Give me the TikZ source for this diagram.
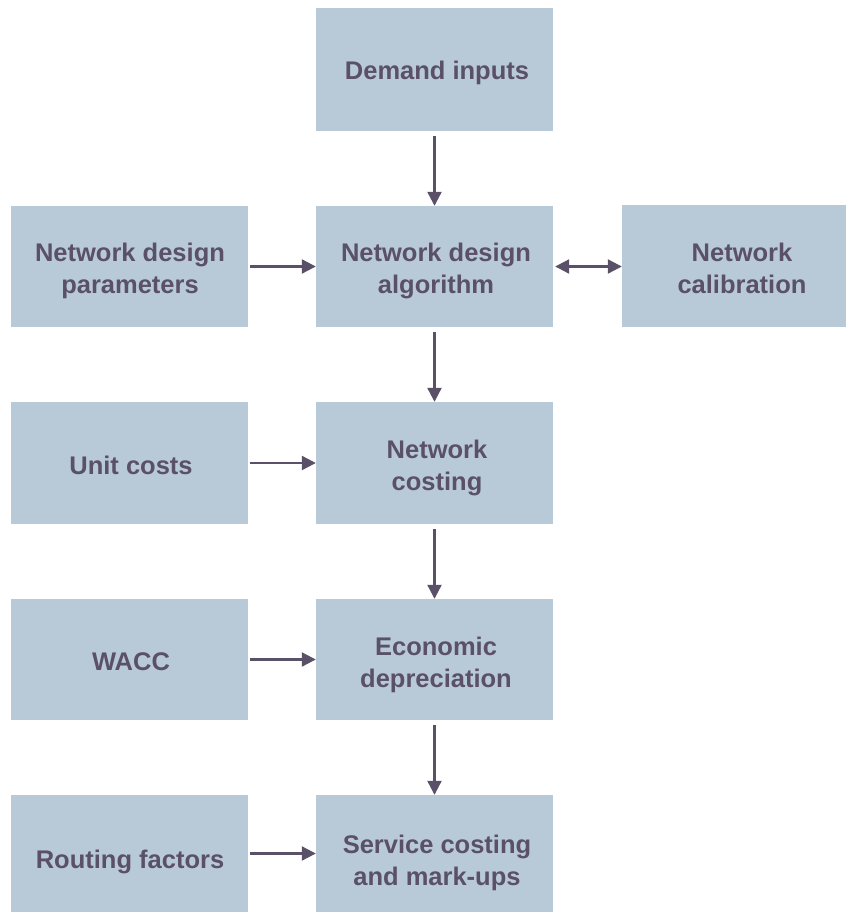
\documentclass[tikz,border=0pt]{standalone}
\usepackage{fontspec}
\setmainfont{Liberation Sans}
\usetikzlibrary{arrows.meta}
\definecolor{boxfill}{HTML}{B8CAD8}
\definecolor{ink}{HTML}{5A5068}
\begin{document}
\begin{tikzpicture}[x=1pt,y=-1pt,
  blk/.style={fill=boxfill,draw=none,minimum width=237pt,minimum height=122pt,
    align=center,inner sep=0pt,text=ink,font=\bfseries\fontsize{25.5}{32}\selectfont,
    text depth=0pt},
  txt/.style={align=center,inner sep=0pt,text=ink,font=\bfseries\fontsize{25.5}{32}\selectfont},
  conn/.style={draw=ink,line width=2.2pt,-{Triangle[length=14pt,width=14pt]}},
  dconn/.style={draw=ink,line width=2.2pt,{Triangle[length=14pt,width=14pt]}-{Triangle[length=14pt,width=14pt]}}]
\useasboundingbox[fill=white] (0,0) rectangle (846,913);
\node[blk,minimum height=123pt] (dem) at (434.5,69.5) {};
\node[txt] (demT) at (437,73) {Demand inputs};
\node[blk,minimum height=121pt] (ndp) at (129.5,266.5) {};
\node[txt] (ndpT) at (130,271) {Network design\\parameters};
\node[blk,minimum height=121pt] (nda) at (434.5,266.5) {};
\node[txt] (ndaT) at (436,271) {Network design\\algorithm};
\node[blk,minimum width=224pt,minimum height=122pt] (cal) at (734,266) {};
\node[txt] (calT) at (742,268) {Network\\calibration};
\node[blk] (unit) at (129.5,463) {};
\node[txt] (unitT) at (131,465) {Unit costs};
\node[blk] (cost) at (434.5,463) {};
\node[txt] (costT) at (437,468) {Network\\costing};
\node[blk,minimum height=121pt] (wacc) at (129.5,659.5) {};
\node[txt] (waccT) at (131,662) {WACC};
\node[blk,minimum height=121pt] (econ) at (434.5,659.5) {};
\node[txt] (econT) at (436,665) {Economic\\depreciation};
\node[blk,minimum height=117pt] (route) at (129.5,853.5) {};
\node[txt] (routeT) at (130,862) {Routing factors};
\node[blk,minimum height=117pt] (serv) at (434.5,853.5) {};
\node[txt] (servT) at (437,862.5) {Service costing\\and mark-ups};
\draw[conn,shorten <=5pt] (dem.south) -- (nda.north);
\draw[conn,shorten <=5pt] (nda.south) -- (cost.north);
\draw[conn,shorten <=5pt] (cost.south) -- (econ.north);
\draw[conn,shorten <=5pt] (econ.south) -- (serv.north);
\draw[conn,shorten <=2pt] (ndp.east) -- (nda.west);
\draw[conn,shorten <=2pt] (unit.east) -- (cost.west);
\draw[conn,shorten <=2pt] (wacc.east) -- (econ.west);
\draw[conn,shorten <=2pt] (route.east) -- (serv.west);
\draw[dconn,shorten <=2pt] (nda.east) -- (cal.west |- nda.east);
\end{tikzpicture}
\end{document}
